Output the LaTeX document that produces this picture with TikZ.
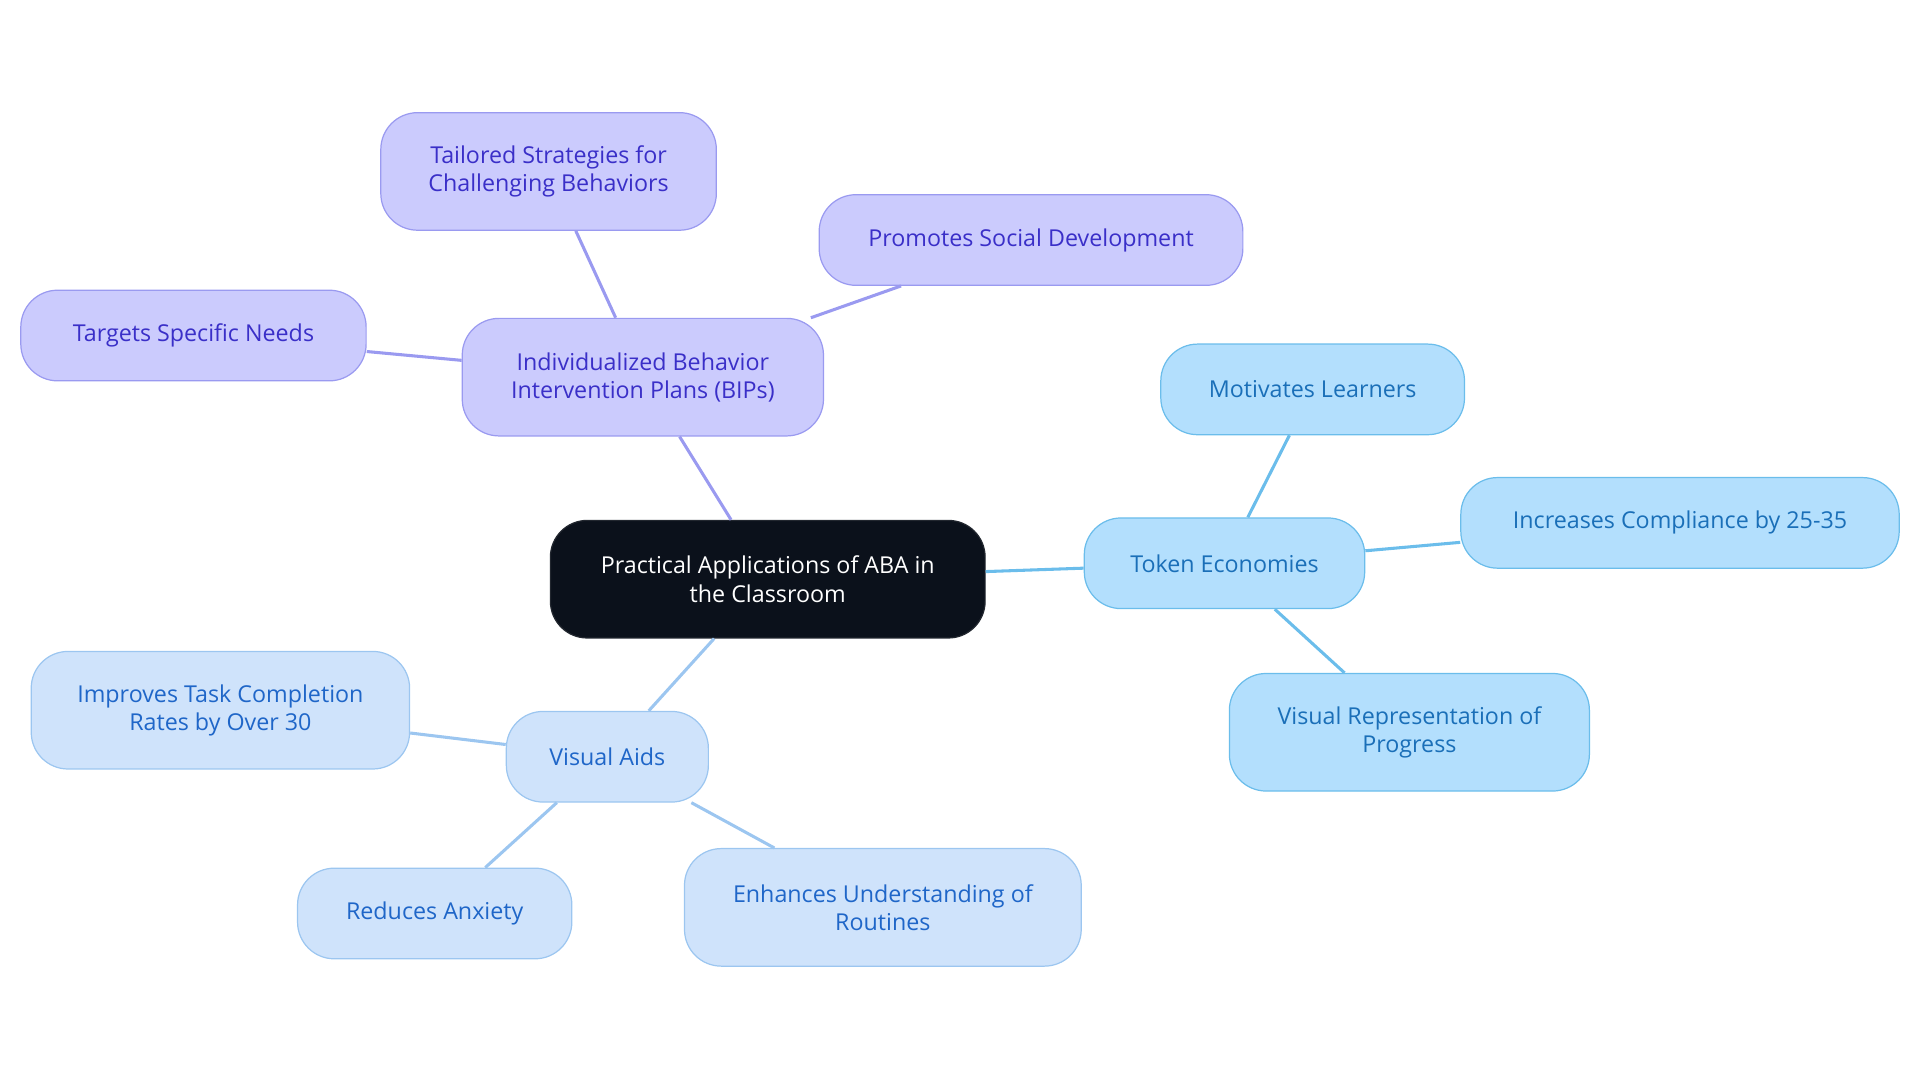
\documentclass[tikz,border=0pt]{standalone}
\usepackage{fontspec}
\setmainfont{Open Sans}
\begin{document}
\begin{tikzpicture}[x=1pt,y=-1pt,
  box/.style={rounded corners=30pt,draw,line width=1pt,align=center,inner sep=0pt,font=\fontsize{19}{23}\selectfont},
  cen/.style={box,fill=cenf,draw=cenf!80!gray,text=white},
  pur/.style={box,fill=purf,draw=purd,text=purt},
  tok/.style={box,fill=tokf,draw=tokd,text=tokt},
  vis/.style={box,fill=visf,draw=visd,text=vist}]
\definecolor{cenf}{HTML}{0B111B}
\definecolor{purf}{HTML}{CBCBFD}\definecolor{purd}{HTML}{9A9AF0}\definecolor{purt}{HTML}{3A2FC8}
\definecolor{tokf}{HTML}{B3DFFD}\definecolor{tokd}{HTML}{6BBDEB}\definecolor{tokt}{HTML}{1A6FB8}
\definecolor{visf}{HTML}{CFE3FB}\definecolor{visd}{HTML}{9CC6F0}\definecolor{vist}{HTML}{1F66C8}
\useasboundingbox (0,0) rectangle (1568,884);
\node[cen,minimum width=355,minimum height=96] (c) at (627,473) {Practical Applications of ABA in\\the Classroom};
\node[pur,minimum width=295,minimum height=96] (b) at (525,308) {Individualized Behavior\\Intervention Plans (BIPs)};
\node[pur,minimum width=274,minimum height=96] (b1) at (448,140) {Tailored Strategies for\\Challenging Behaviors};
\node[pur,minimum width=346,minimum height=74] (b2) at (842,196) {Promotes Social Development};
\node[pur,minimum width=282,minimum height=74] (b3) at (158,274) {Targets Specific Needs};
\node[tok,minimum width=229,minimum height=74] (t) at (1000,460) {Token Economies};
\node[tok,minimum width=248,minimum height=74] (t1) at (1072,318) {Motivates Learners};
\node[tok,minimum width=358,minimum height=74] (t2) at (1372,427) {Increases Compliance by 25-35};
\node[tok,minimum width=294,minimum height=96] (t3) at (1151,598) {Visual Representation of\\Progress};
\node[vis,minimum width=165,minimum height=74] (v) at (496,618) {Visual Aids};
\node[vis,minimum width=309,minimum height=96] (v1) at (180,580) {Improves Task Completion\\Rates by Over 30};
\node[vis,minimum width=224,minimum height=74] (v2) at (355,746) {Reduces Anxiety};
\node[vis,minimum width=324,minimum height=96] (v3) at (721,741) {Enhances Understanding of\\Routines};
\begin{scope}[line width=2.5pt]
\draw[purd] (c) -- (b); \draw[purd] (b) -- (b1); \draw[purd] (b) -- (b2); \draw[purd] (b) -- (b3);
\draw[tokd] (c) -- (t); \draw[tokd] (t) -- (t1); \draw[tokd] (t) -- (t2); \draw[tokd] (t) -- (t3);
\draw[visd] (c) -- (v); \draw[visd] (v) -- (v1); \draw[visd] (v) -- (v2); \draw[visd] (v) -- (v3);
\end{scope}
\end{tikzpicture}
\end{document}
